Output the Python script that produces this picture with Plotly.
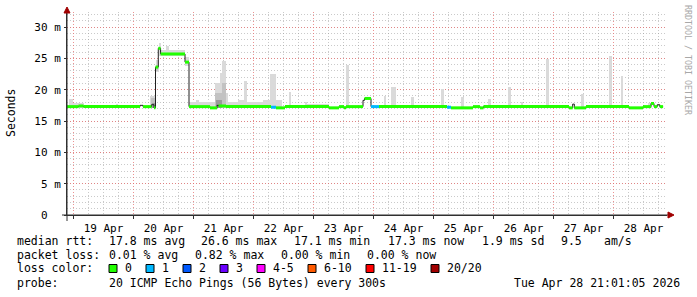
import pandas as pd
import plotly.graph_objects as go

# ---------------- data ----------------
x_start = "2026-04-18 21:24"
x_end = "2026-04-28 21:24"

# median rtt (ms) as step change points; loss bucket per segment (None = only black line visible)
med_t = ["2026-04-18 21:24", "2026-04-19 02:00", "2026-04-19 04:00", "2026-04-20 02:36",
         "2026-04-20 03:48", "2026-04-20 07:12", "2026-04-20 08:12", "2026-04-20 08:48",
         "2026-04-20 09:55", "2026-04-20 10:50", "2026-04-20 20:36", "2026-04-20 22:12",
         "2026-04-21 06:36", "2026-04-21 09:24", "2026-04-21 10:00", "2026-04-21 13:00",
         "2026-04-22 07:00", "2026-04-22 09:00", "2026-04-22 12:36", "2026-04-23 06:12",
         "2026-04-23 10:12", "2026-04-23 12:12", "2026-04-23 13:00", "2026-04-23 19:48",
         "2026-04-23 20:24", "2026-04-23 23:00", "2026-04-24 02:12", "2026-04-25 05:24",
         "2026-04-25 07:00", "2026-04-25 15:48", "2026-04-25 18:36", "2026-04-25 20:00",
         "2026-04-27 06:12", "2026-04-27 07:40", "2026-04-27 08:20", "2026-04-27 13:00",
         "2026-04-28 06:12", "2026-04-28 11:48", "2026-04-28 15:00", "2026-04-28 16:12",
         "2026-04-28 17:30", "2026-04-28 18:30", "2026-04-28 19:50"]
med_v = [17.3, 17.4, 17.3, 17.5,
         17.3, 17.6, 17.1, 23.6,
         26.6, 25.7, 24.4, 17.3,
         17.1, 17.5, 17.4, 17.3,
         17.2, 17.1, 17.3, 17.1,
         17.3, 17.1, 17.3, 18.3,
         18.6, 17.3, 17.3, 17.2,
         17.1, 17.3, 17.1, 17.3,
         17.1, 17.7, 17.1, 17.3,
         17.1, 17.3, 17.8, 17.3,
         17.6, 17.3, 17.3]
med_loss = [0, 0, 0, None,
            0, None, 0, 0,
            0, 0, 0, 0,
            0, None, 0, 0,
            1, 0, 0, 0,
            0, 0, 0, None,
            0, 1, 0, 1,
            0, 0, 0, 0,
            0, None, 0, 0,
            0, 0, 0, 0,
            None, 0, 0]

# smoke (ping spread), light layer
smoke_light_start = ["2026-04-18 22:12", "2026-04-18 23:48", "2026-04-19 17:00", "2026-04-20 06:36",
                     "2026-04-20 08:48", "2026-04-20 10:00", "2026-04-20 11:00", "2026-04-20 13:00",
                     "2026-04-20 20:36", "2026-04-20 22:12", "2026-04-21 01:00", "2026-04-21 08:36",
                     "2026-04-21 10:36", "2026-04-21 11:30", "2026-04-21 12:54", "2026-04-21 13:54",
                     "2026-04-21 17:54", "2026-04-21 20:18", "2026-04-21 21:18", "2026-04-22 03:54",
                     "2026-04-22 06:36", "2026-04-22 09:00", "2026-04-22 14:12", "2026-04-22 20:36",
                     "2026-04-22 21:24", "2026-04-23 13:00", "2026-04-24 04:12", "2026-04-24 07:00",
                     "2026-04-24 15:00", "2026-04-25 03:00", "2026-04-25 10:54", "2026-04-25 21:54",
                     "2026-04-26 05:54", "2026-04-26 10:54", "2026-04-26 21:00", "2026-04-27 11:00",
                     "2026-04-27 22:18", "2026-04-28 02:54", "2026-04-28 13:54"]
smoke_light_end = ["2026-04-18 23:48", "2026-04-19 04:12", "2026-04-19 17:54", "2026-04-20 08:48",
                   "2026-04-20 10:00", "2026-04-20 11:00", "2026-04-20 20:36", "2026-04-20 14:12",
                   "2026-04-20 22:12", "2026-04-21 08:36", "2026-04-21 02:00", "2026-04-21 10:36",
                   "2026-04-21 11:30", "2026-04-21 12:54", "2026-04-21 13:54", "2026-04-21 17:54",
                   "2026-04-21 20:18", "2026-04-21 21:18", "2026-04-22 03:54", "2026-04-22 06:36",
                   "2026-04-22 09:00", "2026-04-22 11:18", "2026-04-22 15:00", "2026-04-22 21:24",
                   "2026-04-23 06:00", "2026-04-23 14:18", "2026-04-24 05:00", "2026-04-24 09:00",
                   "2026-04-24 16:12", "2026-04-25 04:12", "2026-04-25 12:12", "2026-04-25 22:54",
                   "2026-04-26 06:54", "2026-04-26 11:54", "2026-04-26 22:18", "2026-04-27 12:00",
                   "2026-04-27 23:18", "2026-04-28 03:54", "2026-04-28 15:18"]
smoke_light_lo = [17.0, 17.0, 17.0, 17.0,
                  22.8, 25.3, 25.3, 25.3,
                  23.8, 17.0, 17.0, 17.0,
                  17.0, 17.0, 17.0, 17.0,
                  17.0, 17.0, 17.0, 17.0,
                  17.0, 17.0, 17.0, 17.0,
                  17.0, 17.0, 17.0, 17.0,
                  17.0, 17.0, 17.0, 17.0,
                  17.0, 17.0, 17.0, 17.0,
                  17.0, 17.0, 17.0]
smoke_light_hi = [18.5, 17.8, 17.7, 19.0,
                  24.7, 27.5, 26.3, 27.0,
                  25.2, 18.1, 18.4, 21.1,
                  22.6, 24.6, 19.4, 18.1,
                  18.4, 21.4, 18.1, 18.3,
                  22.5, 18.3, 19.7, 18.1,
                  17.7, 23.9, 19.0, 20.4,
                  18.8, 20.1, 18.8, 18.5,
                  20.4, 18.0, 24.9, 19.3,
                  25.4, 22.2, 17.9]

# smoke, medium layer
smoke_mid_start = ["2026-04-20 07:00", "2026-04-20 08:48", "2026-04-21 08:36", "2026-04-21 11:30"]
smoke_mid_end = ["2026-04-20 08:36", "2026-04-20 09:55", "2026-04-21 12:54", "2026-04-21 12:54"]
smoke_mid_lo = [17.0, 23.0, 17.0, 17.0]
smoke_mid_hi = [18.7, 24.0, 19.4, 21.0]

# smoke, dark layer
smoke_dark_start = ["2026-04-20 07:30", "2026-04-21 08:48"]
smoke_dark_end = ["2026-04-20 08:36", "2026-04-21 11:30"]
smoke_dark_lo = [17.0, 17.0]
smoke_dark_hi = [17.9, 18.3]

y_tickvals = [0, 5, 10, 15, 20, 25, 30]
y_ticktext = ["0\u00a0\u00a0", "5 m", "10 m", "15 m", "20 m", "25 m", "30 m"]

loss_labels = ["0", "1", "2", "3", "4-5", "6-10", "11-19", "20/20"]
loss_colors = ["#22ff00", "#00b8ff", "#0059ff", "#6a00ff", "#ff00ff", "#ff5a00", "#ff0000", "#a10000"]

stats_rtt = ["median rtt:", "17.8 ms avg", "26.6 ms max", "17.1 ms min", "17.3 ms now",
             "1.9 ms sd", "9.5", "am/s"]
stats_loss = ["packet loss:", "0.01 % avg", "0.82 % max", "0.00 % min", "0.00 % now"]
probe_text = ["probe:", "20 ICMP Echo Pings (56 Bytes) every 300s", "Tue Apr 28 21:01:05 2026"]

# ---------------- figure ----------------
FONT = "DejaVu Sans Mono"
L, R, T, B = 67, 30, 12, 82
W, H = 697, 297
PW, PH = W - L - R, H - T - B


def px(xp):
    return (xp - L) / PW


def py(yp):
    return (H - B - yp) / PH


fig = go.Figure()


def add_smoke(starts, ends, los, his, color):
    s = pd.to_datetime(pd.Series(starts))
    e = pd.to_datetime(pd.Series(ends))
    mid = s + (e - s) / 2
    width = (e - s).dt.total_seconds() * 1000
    fig.add_trace(go.Bar(x=mid, y=[h - l for h, l in zip(his, los)], base=los,
                         width=width.tolist(), marker=dict(color=color, line=dict(width=0)),
                         hoverinfo="skip"))


add_smoke(smoke_light_start, smoke_light_end, smoke_light_lo, smoke_light_hi, "#dadada")
add_smoke(smoke_mid_start, smoke_mid_end, smoke_mid_lo, smoke_mid_hi, "#c2c2c2")
add_smoke(smoke_dark_start, smoke_dark_end, smoke_dark_lo, smoke_dark_hi, "#9a9a9a")

# black median line
fig.add_trace(go.Scatter(x=med_t, y=med_v, mode="lines", line=dict(color="#202020", width=1, shape="hv"),
                         hoverinfo="skip"))

# loss colored median segments
for code in sorted({c for c in med_loss if c is not None}):
    xs, ys = [], []
    for i in range(len(med_t) - 1):
        if med_loss[i] == code:
            xs += [med_t[i], med_t[i + 1], None]
            ys += [med_v[i], med_v[i], None]
    fig.add_trace(go.Scatter(x=xs, y=ys, mode="lines", line=dict(color=loss_colors[code], width=3),
                             hoverinfo="skip"))

major_grid = "rgba(230,110,110,0.75)"
minor_grid = "rgba(150,150,150,0.5)"
axis_col = "#303030"

fig.update_layout(
    width=W, height=H, margin=dict(l=L, r=R, t=T, b=B),
    paper_bgcolor="white", plot_bgcolor="white", showlegend=False,
    barmode="overlay", bargap=0,
    font=dict(family=FONT, size=11, color="black"),
    xaxis=dict(type="date", range=[x_start, x_end], tick0="2026-04-19", dtick=86400000,
               ticklabelmode="period", tickformat="%d %b",
               showgrid=True, gridcolor=major_grid, griddash="1px,2px", gridwidth=1,
               minor=dict(dtick=6 * 3600 * 1000, tick0="2026-04-19", showgrid=True,
                          gridcolor=minor_grid, griddash="1px,2px"),
               showline=True, linecolor=axis_col, linewidth=1, zeroline=False,
               ticks="outside", ticklen=3, tickcolor=axis_col,
               tickfont=dict(family=FONT, size=11, color="black"), fixedrange=True),
    yaxis=dict(range=[0, 32.4], tickmode="array", tickvals=y_tickvals, ticktext=y_ticktext,
               showgrid=True, gridcolor=major_grid, griddash="1px,2px",
               minor=dict(dtick=1, showgrid=True, gridcolor=minor_grid, griddash="1px,2px"),
               showline=True, linecolor=axis_col, linewidth=1, zeroline=False,
               ticks="outside", ticklen=2, tickcolor=axis_col, ticklabelstandoff=1,
               tickfont=dict(family=FONT, size=11, color="black"), fixedrange=True),
)

# axis extensions and arrow heads
shapes = [
    dict(type="line", xref="paper", yref="paper", x0=0, x1=0, y0=py(221), y1=py(9),
         line=dict(color=axis_col, width=1)),
    dict(type="line", xref="paper", yref="paper", x0=px(62), x1=px(670), y0=0, y1=0,
         line=dict(color=axis_col, width=1)),
    dict(type="path", xref="paper", yref="paper",
         path=f"M {px(64)},{py(13)} L {px(70)},{py(13)} L {px(67)},{py(7)} Z",
         fillcolor="#a00000", line=dict(color="#a00000", width=1)),
    dict(type="path", xref="paper", yref="paper",
         path=f"M {px(668)},{py(212)} L {px(668)},{py(218)} L {px(674)},{py(215)} Z",
         fillcolor="#a00000", line=dict(color="#a00000", width=1)),
]

annotations = []


def txt(s, xpix, ypix, **kw):
    d = dict(text=s, xref="paper", yref="paper", x=0, y=0, xshift=xpix - L, yshift=(H - B) - ypix,
             xanchor="left", yanchor="middle", showarrow=False, borderpad=0,
             font=dict(family=FONT, size=11.5, color="black"))
    d.update(kw)
    annotations.append(d)


# y axis title
txt("Seconds", 11, 113, xanchor="center", textangle=-90, font=dict(family=FONT, size=11.5, color="black"))
# right credit
txt("RRDTOOL / TOBI OETIKER", 688, 60, xanchor="center", textangle=90,
    font=dict(family=FONT, size=8.3, color="#a8a8a8"))

rtt_x = [16, 108, 200, 293, 387, 481, 560, 603]
for s, xx in zip(stats_rtt, rtt_x):
    txt(s, xx, 241)
loss_x = [16, 108, 194, 280, 366]
for s, xx in zip(stats_loss, loss_x):
    txt(s, xx, 254.5)
txt("loss color:", 16, 268)
sq_x = 109
for lab, col in zip(loss_labels, loss_colors):
    shapes.append(dict(type="rect", xref="paper", yref="paper",
                       x0=px(sq_x), x1=px(sq_x + 8), y0=py(272.5), y1=py(264.5),
                       fillcolor=col, line=dict(color="black", width=1)))
    txt(lab, sq_x + 14.5, 268)
    sq_x += 7 * len(lab) + 30
txt(probe_text[0], 16, 283)
txt(probe_text[1], 108, 283)
txt(probe_text[2], 513, 283)

fig.update_layout(shapes=shapes, annotations=annotations)
fig.write_html("out.html")
